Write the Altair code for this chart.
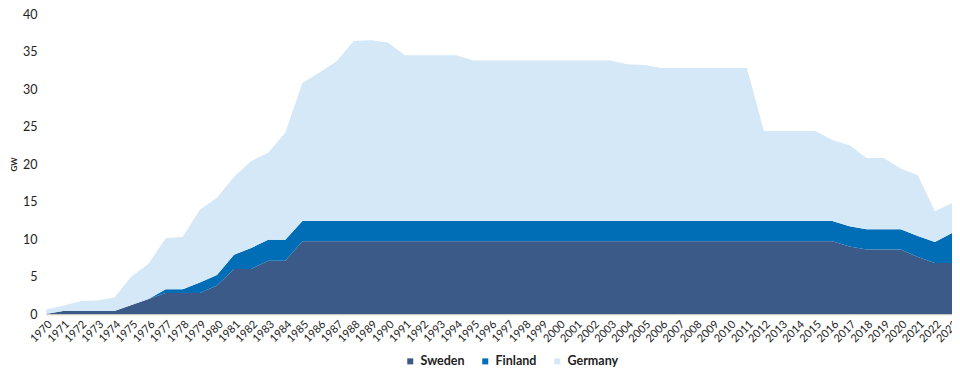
import altair as alt
import pandas as pd

years = list(range(1970, 2024))

sweden = [0.0, 0.4, 0.4, 0.4, 0.4, 1.2, 2.0, 2.8, 2.8, 2.8, 3.8, 6.0, 6.0, 7.1, 7.1] + \
    [9.7] * 32 + [9.0, 8.6, 8.6, 8.6, 7.6, 6.8, 6.8]

finland = [0.0, 0.0, 0.0, 0.0, 0.0, 0.0, 0.0, 0.5, 0.5, 1.4, 1.4, 1.9, 2.8, 2.8, 2.8] + \
    [2.7] * 32 + [2.7, 2.7, 2.7, 2.7, 2.8, 2.8, 4.0]

germany = [0.6, 0.7, 1.3, 1.4, 1.8, 3.8, 4.7, 6.8, 7.0, 9.7, 10.3, 10.4, 11.6, 11.6, 14.3,
           18.4, 19.8, 21.3, 24.0, 24.1, 23.8, 22.1, 22.1, 22.1, 22.1,
           21.4, 21.4, 21.4, 21.4, 21.4, 21.4, 21.4, 21.4, 21.4,
           20.9, 20.8, 20.4, 20.4, 20.4, 20.4, 20.4, 20.4,
           12.0, 12.0, 12.0, 12.0, 10.8, 10.8, 9.5, 9.5, 8.1, 8.1, 4.1, 4.0]

series = ["Sweden", "Finland", "Germany"]
colors = ["#3b5a87", "#006eb6", "#d5e8f8"]

rows = []
for i, y in enumerate(years):
    for k, (name, vals) in enumerate(zip(series, [sweden, finland, germany])):
        rows.append({"year": str(y), "country": name, "gw": vals[i], "ord": k})
df = pd.DataFrame(rows)

FONT = "Lato"

chart = alt.Chart(df).mark_area(opacity=1, interpolate="linear").encode(
    x=alt.X("year:O", scale=alt.Scale(type="point", padding=0),
            axis=alt.Axis(title=None, labelAngle=-45, labelFontSize=11, labelColor="#222",
                          ticks=False, domainColor="#c8c8c8", domainWidth=1.5, labelPadding=4,
                          labelFont=FONT)),
    y=alt.Y("gw:Q", stack="zero", scale=alt.Scale(domain=[0, 40], nice=False),
            axis=alt.Axis(title="GW", values=[0, 5, 10, 15, 20, 25, 30, 35, 40], grid=False,
                          domain=False, ticks=False, labelFontSize=12.5, labelColor="#222",
                          labelPadding=9, titleFontSize=8, titleFontWeight="bold",
                          titlePadding=4, labelFont=FONT, titleFont=FONT, titleColor="#222")),
    color=alt.Color("country:N", sort=series,
                    scale=alt.Scale(domain=series, range=colors),
                    legend=alt.Legend(title=None, orient="none", direction="horizontal",
                                      legendX=358, legendY=341, symbolType="square",
                                      symbolSize=36, labelFontSize=12.5, labelFontWeight="bold",
                                      labelFont=FONT, labelColor="#222", columnPadding=14,
                                      symbolStrokeWidth=0)),
    order=alt.Order("ord:Q", sort="ascending"),
).properties(
    width=906, height=300,
    autosize=alt.AutoSizeParams(type="none"),
    padding={"left": 38, "top": 6, "right": 0, "bottom": 60},
).configure_view(stroke=None)

chart.save("out.html", embed_options={"renderer": "svg", "actions": False})
